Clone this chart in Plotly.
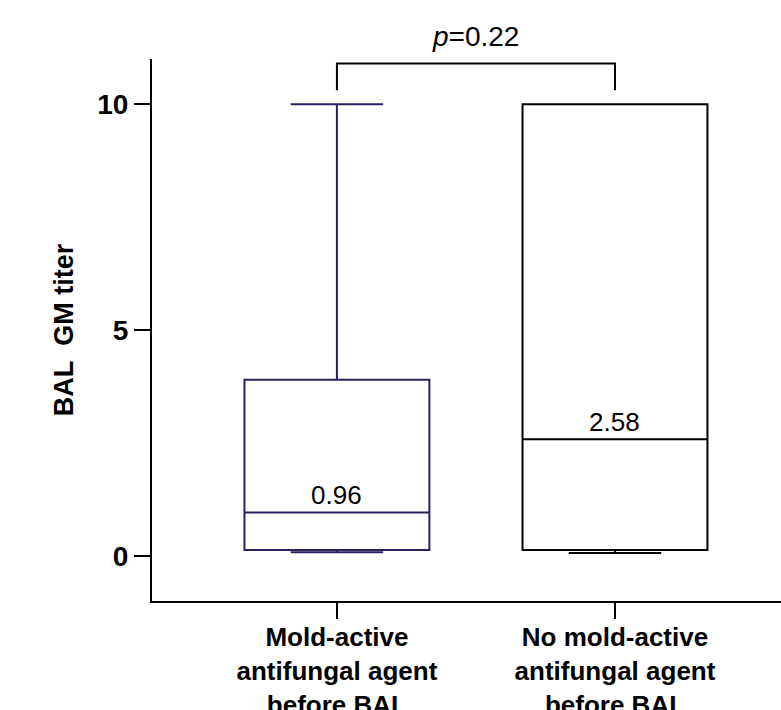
import plotly.graph_objects as go

# ---- data ----
categories = ["Mold-active<br>antifungal agent<br>before BAL",
              "No mold-active<br>antifungal agent<br>before BAL"]
q1 = [0.13, 0.13]
median = [0.96, 2.58]
q3 = [3.9, 10.0]
lower_fence = [0.08, 0.06]
upper_fence = [10.0, 10.0]
median_labels = ["0.96", "2.58"]
box_colors = ["#2e1f5e", "#000000"]
p_text = "<i>p</i>=0.22"
y_ticks = [0, 5, 10]

FONT = "Liberation Sans, Arial, Helvetica, sans-serif"

fig = go.Figure()
for i, cat in enumerate(categories):
    fig.add_trace(go.Box(
        x=[cat], q1=[q1[i]], median=[median[i]], q3=[q3[i]],
        lowerfence=[lower_fence[i]], upperfence=[upper_fence[i]],
        boxpoints=False, width=0.665, whiskerwidth=0.5,
        line=dict(color=box_colors[i], width=2),
        fillcolor="rgba(0,0,0,0)", showlegend=False, hoverinfo="skip",
    ))
    fig.add_annotation(x=cat, y=median[i], text=median_labels[i],
                       showarrow=False, yanchor="bottom", yshift=0,
                       font=dict(family=FONT, size=26, color="black"))

# significance bracket
top = max(upper_fence) + 0.9
low = max(upper_fence) + 0.31
fig.add_shape(type="path", xref="x", yref="y",
              path=f"M 0,{low} L 0,{top} L 1,{top} L 1,{low}",
              line=dict(color="black", width=2))
fig.add_annotation(x=0.5, xref="x", y=top, yref="y", text=p_text,
                   showarrow=False, yanchor="bottom", yshift=10,
                   font=dict(family=FONT, size=28, color="black"))

fig.update_layout(
    width=781, height=710,
    margin=dict(l=152, r=0, t=59, b=109, autoexpand=False),
    paper_bgcolor="white", plot_bgcolor="white",
    font=dict(family=FONT, color="black"),
)
fig.update_yaxes(
    range=[-1, 11], tickvals=y_ticks, ticktext=[f"<b>{v}</b>" for v in y_ticks],
    ticks="outside", ticklen=16, tickwidth=1.5, tickcolor="black",
    showline=True, linewidth=2, linecolor="black",
    showgrid=False, zeroline=False, automargin=False,
    tickfont=dict(family=FONT, size=28, color="black"),
    title=dict(text="<b>BAL\u00a0\u00a0GM titer</b>", standoff=16,
               font=dict(family=FONT, size=27, color="black")),
)
fig.update_xaxes(
    range=[-0.665, 1.597], type="category",
    tickvals=categories, ticktext=[f"<b>{c}</b>" for c in categories],
    ticks="outside", ticklen=16, tickwidth=1.5, tickcolor="black",
    showline=True, linewidth=2, linecolor="black",
    showgrid=False, zeroline=False, automargin=False,
    ticklabelstandoff=-4,
    tickfont=dict(family=FONT, size=26, color="black"),
)

fig.write_html("out.html", config={"displayModeBar": False},
               post_script="document.body.style.margin='0';document.body.style.overflow='hidden';")
